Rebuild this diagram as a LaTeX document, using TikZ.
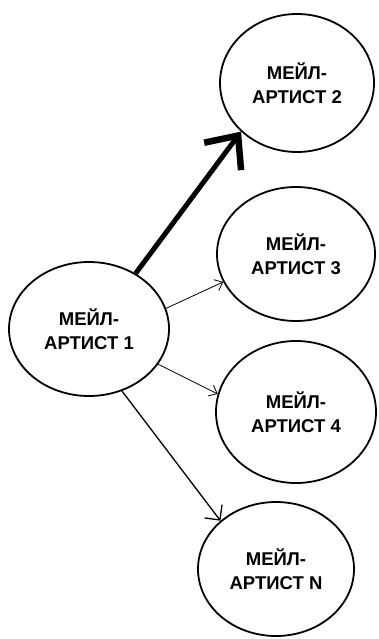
\documentclass[tikz,border=0pt]{standalone}
\usepackage{fontspec}
\setmainfont{Liberation Sans}
\usetikzlibrary{shapes.geometric,arrows.meta}
\begin{document}
\begin{tikzpicture}[x=1pt,y=-1pt,
  artist/.style={ellipse,draw,line width=1.8pt,inner sep=0pt,
    minimum width=#1,align=center,
    font=\fontsize{18.5}{24}\selectfont\bfseries},
  thinlink/.style={draw,line width=0.8pt,
    -{Straight Barb[length=7pt,width=12pt,line width=0.8pt]}},
  midlink/.style={draw,line width=1.3pt,
    -{Straight Barb[length=11pt,width=22pt,line width=1.3pt]}},
  boldlink/.style={draw,line width=5pt,
    -{Straight Barb[length=26pt,width=46pt,line width=6.5pt]}}]
  \useasboundingbox (0,0) rectangle (379,639);
  \fill[white] (0,0) rectangle (379,639);

  \node[artist=160pt,minimum height=134pt] (a1) at (89,329) {МЕЙЛ-\\АРТИСТ 1};
  \node[artist=154pt,minimum height=138pt] (a2) at (297,83) {МЕЙЛ-\\АРТИСТ 2};
  \node[artist=158pt,minimum height=134pt] (a3) at (296,254) {МЕЙЛ-\\АРТИСТ 3};
  \node[artist=160pt,minimum height=142pt] (a4) at (296,412) {МЕЙЛ-\\АРТИСТ 4};
  \node[artist=156pt,minimum height=134pt] (an) at (276,569) {МЕЙЛ-\\АРТИСТ N};

  \path[boldlink] (a1.50) -- (a2.221);
  \path[thinlink] (a1.15) -- (a3.201);
  \path[thinlink] (a1.-27) -- (a4.167);
  \path[midlink] (a1.-62) -- (an.139);
\end{tikzpicture}
\end{document}
